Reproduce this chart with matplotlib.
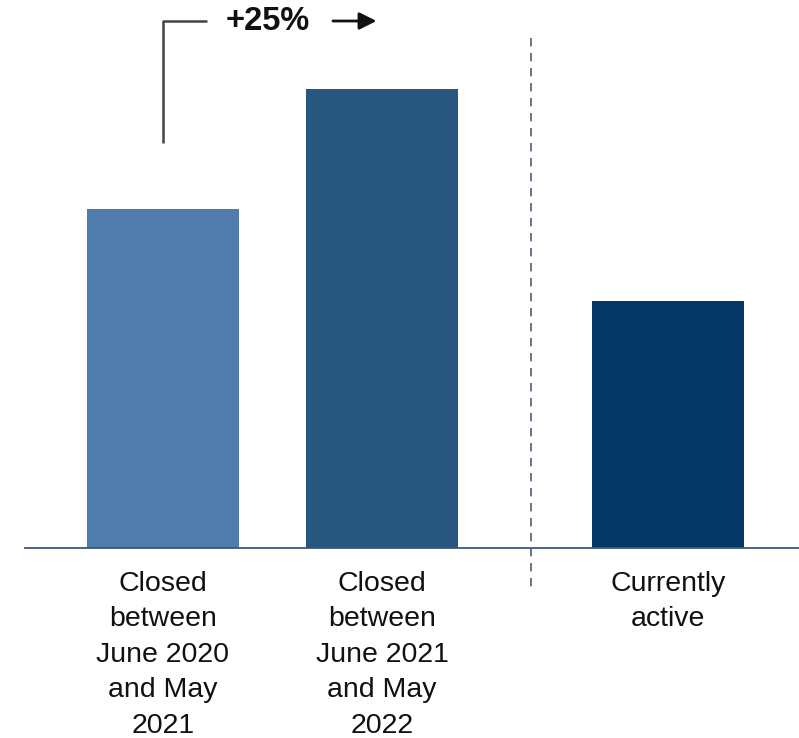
import matplotlib.pyplot as plt

# bar values and labels
categories = [
    "Closed\nbetween\nJune 2020\nand May\n2021",
    "Closed\nbetween\nJune 2021\nand May\n2022",
    "Currently\nactive",
]
values = [339, 459, 247]
colors = ["#4F7CAC", "#27577F", "#043764"]
growth_label = "+25%"

# layout: the third bar sits further right, past the divider
positions = [0, 1, 2.306]
bar_width = 0.694

W, H = 799, 738
fig = plt.figure(figsize=(W / 100, H / 100), dpi=100)
ax = fig.add_axes([25 / W, (H - 548) / H, (W - 25) / W, 548 / H])

ax.bar(positions, values, width=bar_width, color=colors)
ax.set_xlim(-0.630, 2.904)
ax.set_ylim(0, 548)
ax.axis("off")
ax.axhline(0, color="#3B5878", lw=1.3, clip_on=False)

# divider between closed and active
ax.plot([1.68, 1.68], [510, -42], color="#4A5F78", lw=1.2,
        linestyle=(0, (5, 4)), clip_on=False)

# category labels under each bar
for x, lab in zip(positions, categories):
    ax.text(x, -23, lab, ha="center", va="top", fontsize=20.5,
            family="Liberation Sans", linespacing=1.47, color="#111111")

# growth bracket from first bar to second
ax.plot([0, 0, 0.2], [405, 527, 527], color="#444444", lw=1.8,
        solid_capstyle="butt", clip_on=False)
ax.text(0.48, 527, growth_label, ha="center", va="center", fontsize=23.5,
        fontweight="bold", family="Liberation Sans", color="#111111")
ax.annotate("", xy=(0.975, 527), xytext=(0.776, 527),
            arrowprops=dict(arrowstyle="-|>", color="#111111", lw=2,
                            mutation_scale=26, shrinkA=0, shrinkB=0),
            annotation_clip=False)

fig.savefig("out.png", dpi=100, facecolor="white")
